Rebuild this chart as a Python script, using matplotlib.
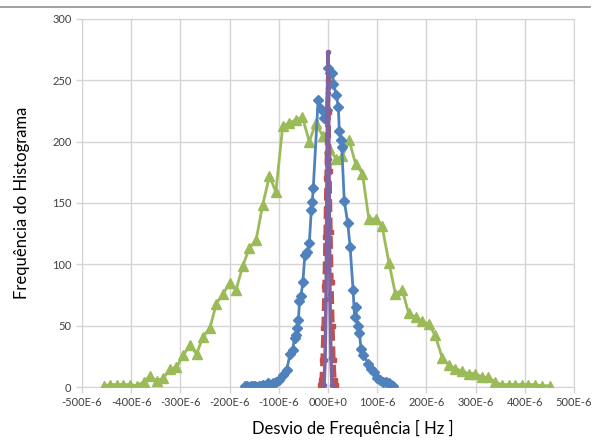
import matplotlib.pyplot as plt
import numpy as np
from matplotlib.lines import Line2D

# frequency deviation in units of 1E-6 Hz
green_x = [-456, -443, -429, -416, -402, -389, -375, -362, -348, -335,
           -321, -308, -294, -281, -267, -254, -240, -227, -213, -200,
           -187, -173, -160, -146, -133, -119, -106, -92, -79, -65,
           -52, -38, -25, -11, 2, 16, 29, 43, 56, 70,
           83, 97, 110, 124, 137, 151, 164, 178, 191, 205,
           218, 232, 245, 259, 272, 286, 299, 313, 326, 340,
           353, 367, 380, 394, 407, 421, 434, 451]
green_y = [1, 2, 2, 2, 2, 1, 4, 9, 5, 7,
           15, 16, 26, 34, 27, 41, 48, 68, 76, 85,
           79, 99, 113, 120, 148, 172, 159, 213, 215, 218,
           220, 200, 215, 205, 195, 186, 188, 201, 182, 174,
           137, 137, 131, 101, 76, 79, 60, 57, 54, 51,
           42, 24, 18, 15, 13, 11, 11, 8, 8, 4,
           2, 2, 2, 2, 2, 2, 1, 1]

blue_x = [-169, -165, -161, -157, -153, -149, -145, -141, -137, -133,
          -129, -125, -121, -117, -112, -106, -99, -91, -84, -77,
          -72, -68, -65, -62, -60, -58, -55, -51, -47, -42,
          -38, -34, -32, -30, -20, -15, -8, -3, 0, 4,
          9, 11, 17, 21, 23, 26, 28, 33, 40, 45,
          51, 54, 56, 60, 64, 67, 72, 82, 88, 94,
          99, 106, 112, 118, 123, 128, 133]
blue_y = [1, 1, 0, 1, 1, 1, 0, 1, 1, 2,
          1, 2, 3, 2, 3, 4, 6, 10, 14, 27,
          30, 40, 42, 48, 55, 70, 74, 86, 108, 110,
          117, 144, 151, 162, 234, 227, 219, 226, 260, 256,
          256, 247, 238, 228, 209, 201, 196, 152, 134, 114,
          79, 57, 65, 50, 44, 31, 26, 19, 15, 12,
          7, 6, 4, 4, 3, 2, 1]

red_x = [-16, -14, -12, -10, -8, -6, -4, -2, 0, 2, 4, 6, 8, 10, 12, 14, 16]
red_y = [2, 6, 22, 48, 82, 122, 170, 218, 250, 224, 176, 126, 86, 50, 22, 6, 2]

purple_x = [-8, -6, -4, -3, -2, -1, 0, 1, 2, 3, 4, 6, 8]
purple_y = [2, 22, 72, 122, 182, 240, 273, 244, 186, 126, 76, 24, 2]

x_ticks = [-500, -400, -300, -200, -100, 0, 100, 200, 300, 400, 500]
x_tick_labels = ["-500E-6", "-400E-6", "-300E-6", "-200E-6", "-100E-6", "000E+0",
                 "100E-6", "200E-6", "300E-6", "400E-6", "500E-6"]
y_ticks = [0, 50, 100, 150, 200, 250, 300]

plt.rcParams['font.family'] = ['Lato', 'DejaVu Sans']

fig = plt.figure(figsize=(5.94, 4.41), dpi=100)
ax = fig.add_axes([82 / 594, 1 - 387 / 441, 492 / 594, 368 / 441])

grid_color = "#d4d4d4"
ax.plot(green_x, green_y, color="#9bbb59", lw=2, marker="^", ms=7, zorder=3)
ax.plot(blue_x, blue_y, color="#4f81bd", lw=2, marker="D", ms=5, zorder=4)
ax.plot(red_x, red_y, color="#c0504d", lw=2.5, ls="--", marker="s", ms=3.5, zorder=5)
ax.plot(purple_x, purple_y, color="#8064a2", lw=2.5, marker="o", ms=3, zorder=6)

ax.set_xlim(-500, 500)
ax.set_ylim(0, 300)
ax.set_xticks(x_ticks)
ax.set_xticklabels(x_tick_labels)
ax.set_yticks(y_ticks)
ax.tick_params(labelsize=8, colors="#404040", length=4, width=1, color=grid_color)
ax.grid(True, color=grid_color, lw=1)
ax.set_axisbelow(True)
for s in ax.spines.values():
    s.set_color(grid_color)

fig.text(353 / 594, 1 - 428 / 441, "Desvio de Frequência [ Hz ]", fontsize=12,
         ha="center", va="center")
fig.text(22 / 594, 1 - 203 / 441, "Frequência do Histograma", fontsize=12,
         ha="center", va="center", rotation=90)

fig.add_artist(Line2D([0, 590 / 594], [1 - 7 / 441, 1 - 7 / 441], color="#909090", lw=1.2))

fig.savefig("out.png", dpi=100)
